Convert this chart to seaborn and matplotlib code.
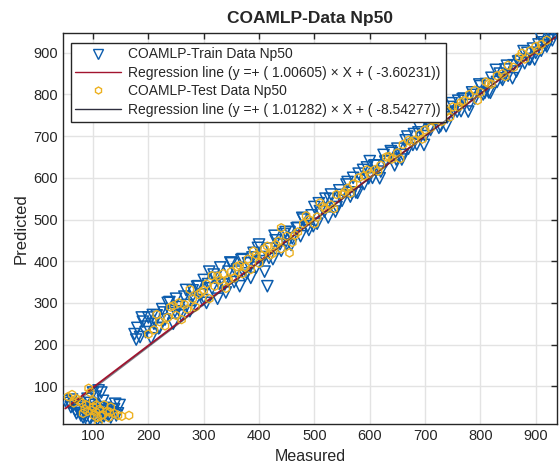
import numpy as np
import pandas as pd
import matplotlib
matplotlib.use('Agg')
import matplotlib.pyplot as plt
import seaborn as sns
from matplotlib.lines import Line2D

# train data (measured, predicted)
train_x = [50, 58, 65, 72, 75, 80, 85, 88, 90, 92, 95, 98, 100, 102, 105, 108, 110, 112, 115, 118,
           120, 122, 125, 128, 130, 135, 140, 142, 145, 100, 105, 62, 70, 82, 95, 115, 118, 132,
           60, 68, 78, 86, 96, 104, 112, 124, 138, 148, 90, 110,
           175, 180, 185, 190, 195, 200, 205, 210, 215, 220, 225, 230, 235, 240, 245, 250, 255, 260,
           265, 270, 275, 280, 285, 290, 295, 300, 305, 310, 315, 320, 325, 330, 335, 340, 345, 350,
           355, 360, 365, 370, 375, 380, 385, 390, 395, 400, 405, 410, 415, 420, 425, 430, 440, 445,
           450, 455, 460, 470, 475, 480, 490, 495, 500, 505, 510, 520, 525, 530, 540, 545, 550, 560,
           565, 570, 575, 580, 590, 595, 600, 605, 610, 620, 625, 630, 640, 645, 650, 660, 665, 670,
           680, 685, 690, 700, 705, 710, 720, 725, 730, 740, 745, 750, 760, 765, 770, 780, 785, 790,
           800, 805, 810, 815, 820, 830, 835, 840, 845, 850, 860, 865, 870, 880, 885, 890, 895, 900,
           905, 910, 915, 920, 925, 930, 935,
           178, 188, 198, 208, 218, 228, 238, 248, 258, 268, 278, 288, 298, 308, 318, 328, 338, 348,
           358, 368, 378, 388, 398, 408, 418, 428, 438, 448, 458, 468, 478, 488, 498, 508, 518, 528,
           538, 548, 558, 568, 578, 588, 598, 608, 618, 628, 638, 648, 658, 668, 678, 688, 698, 708,
           718, 728, 738, 748, 758, 768, 778, 788, 798, 808, 818, 828, 838, 848, 858, 868, 878, 888,
           898, 908, 918, 928]
train_y = [65, 60, 55, 48, 40, 35, 52, 28, 15, 45, 60, 38, 30, 55, 42, 20, 35, 50, 85, 40,
           28, 48, 35, 30, 45, 38, 58, 30, 35, 85, 75, 68, 35, 25, 22, 25, 65, 25,
           50, 42, 30, 40, 48, 28, 30, 42, 45, 55, 70, 90,
           225, 240, 218, 255, 230, 265, 215, 250, 270, 240, 285, 260, 300, 275, 250, 310, 290, 270,
           315, 295, 280, 330, 305, 340, 320, 355, 300, 375, 335, 360, 310, 385, 345, 325, 375, 395,
           350, 380, 340, 405, 365, 395, 360, 420, 385, 440, 400, 375, 340, 430, 405, 450, 425, 465,
           440, 470, 455, 480, 460, 500, 475, 510, 530, 490, 520, 550, 505, 560, 530, 570, 545, 590,
           555, 600, 565, 610, 585, 625, 640, 600, 630, 615, 655, 640, 660, 630, 670, 655, 690, 670,
           705, 680, 720, 700, 735, 715, 745, 720, 760, 745, 770, 755, 785, 760, 790, 775, 805, 790,
           820, 800, 825, 805, 840, 830, 850, 835, 860, 845, 870, 855, 880, 875, 900, 885, 910, 900,
           920, 905, 925, 915, 935, 930, 945,
           212, 265, 243, 271, 239, 277, 302, 280, 278, 331, 311, 339, 307, 345, 368, 346, 344, 397,
           375, 403, 371, 409, 432, 410, 408, 461, 441, 470, 439, 479, 504, 484, 484, 539, 519, 549,
           519, 559, 584, 564, 564, 619, 599, 629, 599, 639, 664, 644, 644, 699, 679, 709, 679, 719,
           744, 724, 724, 779, 759, 789, 759, 799, 824, 804, 804, 859, 839, 869, 839, 879, 904, 884,
           884, 939, 919, 944]

# test data (measured, predicted)
test_x = [55, 62, 70, 80, 85, 90, 92, 95, 100, 102, 105, 108, 110, 112, 115, 120, 125, 128, 132, 138,
          145, 165, 75, 88, 65, 82, 98, 106, 118, 130, 100, 152,
          200, 210, 220, 230, 240, 250, 255, 260, 270, 280, 285, 290, 300, 305, 310, 315, 320, 330,
          335, 340, 350, 355, 365, 370, 380, 385, 395, 400, 410, 420, 430, 440, 440, 450, 455, 460,
          470, 480, 490, 500, 510, 520, 530, 540, 550, 560, 570, 580, 590, 600, 610, 620, 630, 640,
          650, 660, 670, 680, 690, 700, 710, 720, 730, 740, 750, 760, 770, 780, 790, 800, 810, 820,
          830, 840, 850, 860, 870, 880, 890, 900, 910, 920,
          215, 235, 245, 265, 275, 295, 325, 345, 360, 375, 390, 405, 415, 425, 435, 465, 485, 505,
          515, 535, 555, 565, 595, 615, 635, 655, 675, 695, 715, 745, 765, 795, 815, 845, 875, 905]
test_y = [75, 80, 70, 60, 45, 40, 95, 85, 50, 30, 38, 25, 10, 45, 30, 55, 40, 25, 50, 35,
          30, 30, 65, 55, 60, 35, 42, 55, 32, 38, 65, 28,
          225, 235, 255, 245, 290, 270, 300, 260, 285, 310, 290, 320, 330, 345, 310, 365, 340, 355,
          370, 335, 375, 360, 390, 370, 405, 380, 415, 395, 430, 415, 440, 430, 480, 460, 420, 445,
          470, 490, 500, 490, 540, 525, 535, 560, 560, 575, 585, 600, 605, 610, 620, 630, 650, 645,
          660, 680, 690, 690, 705, 715, 720, 740, 735, 760, 770, 770, 785, 800, 810, 805, 830, 825,
          845, 850, 870, 865, 890, 885, 905, 915, 920, 930,
          272, 265, 293, 296, 332, 325, 364, 355, 387, 386, 424, 413, 436, 419, 448, 463, 509, 506,
          531, 526, 566, 563, 619, 616, 651, 646, 686, 693, 739, 746, 781, 786, 826, 843, 899, 906]

# regression coefficients (from legend)
train_coef = (1.00605, -3.60231)
test_coef = (1.01282, -8.54277)

blue = '#0b5cad'
yellow = '#EDB120'
red = '#A2142F'
dark = '#2e2e3e'

sns.set_style('whitegrid')
plt.rcParams['font.family'] = ['Liberation Sans', 'DejaVu Sans']

fig = plt.figure(figsize=(5.59, 4.75), dpi=100)
ax = fig.add_axes([0.113, 0.107, 0.883, 0.824])

df_train = pd.DataFrame({'Measured': train_x, 'Predicted': train_y})
df_test = pd.DataFrame({'Measured': test_x, 'Predicted': test_y})

sns.scatterplot(data=df_train, x='Measured', y='Predicted', marker='v', s=65,
                facecolor='none', edgecolor=blue, linewidth=1.1, ax=ax, zorder=3)
lx = np.array([min(train_x), max(train_x)])
ax.plot(lx, train_coef[0] * lx + train_coef[1], color=red, lw=1.4, zorder=4)
sns.scatterplot(data=df_test, x='Measured', y='Predicted', marker='h', s=36,
                facecolor='none', edgecolor=yellow, linewidth=1.0, ax=ax, zorder=5)
lx2 = np.array([min(test_x), max(test_x) + 20])
ax.plot(lx2, test_coef[0] * lx2 + test_coef[1], color=dark, lw=0.8, alpha=0.6, zorder=6)

ax.set_xlim(46, 938)
ax.set_ylim(9, 948)
ax.set_xticks(range(100, 901, 100))
ax.set_yticks(range(100, 901, 100))
ax.grid(True, color='#e3e3e3', lw=1)
for sp in ax.spines.values():
    sp.set_color('#262626')
    sp.set_linewidth(1.0)
ax.tick_params(direction='in', length=4, top=True, right=True, labelsize=10.5,
               colors='#262626', width=1)
ax.set_xlabel('Measured', fontsize=11.5, labelpad=4)
ax.set_ylabel('Predicted', fontsize=12, labelpad=4)
ax.set_title('COAMLP-Data Np50', fontsize=12.5, fontweight='bold', pad=7)

handles = [
    Line2D([], [], ls='none', marker='v', mfc='none', mec=blue, ms=7),
    Line2D([], [], color=red, lw=1),
    Line2D([], [], ls='none', marker='h', mfc='none', mec=yellow, ms=5),
    Line2D([], [], color=dark, lw=1),
]
labels = [
    'COAMLP-Train Data Np50',
    'Regression line (y =+ ( %.5f) × X + ( %.5f))' % train_coef,
    'COAMLP-Test Data Np50',
    'Regression line (y =+ ( %.5f) × X + ( %.5f))' % test_coef,
]
leg = ax.legend(handles, labels, loc='upper left', bbox_to_anchor=(0.015, 0.975),
                fontsize=10, fancybox=False, framealpha=1, edgecolor='#262626',
                handlelength=3.3, handletextpad=0.5, borderpad=0.35, labelspacing=0.32,
                borderaxespad=0)
leg.get_frame().set_linewidth(1.0)

fig.savefig('out.png', dpi=100)
